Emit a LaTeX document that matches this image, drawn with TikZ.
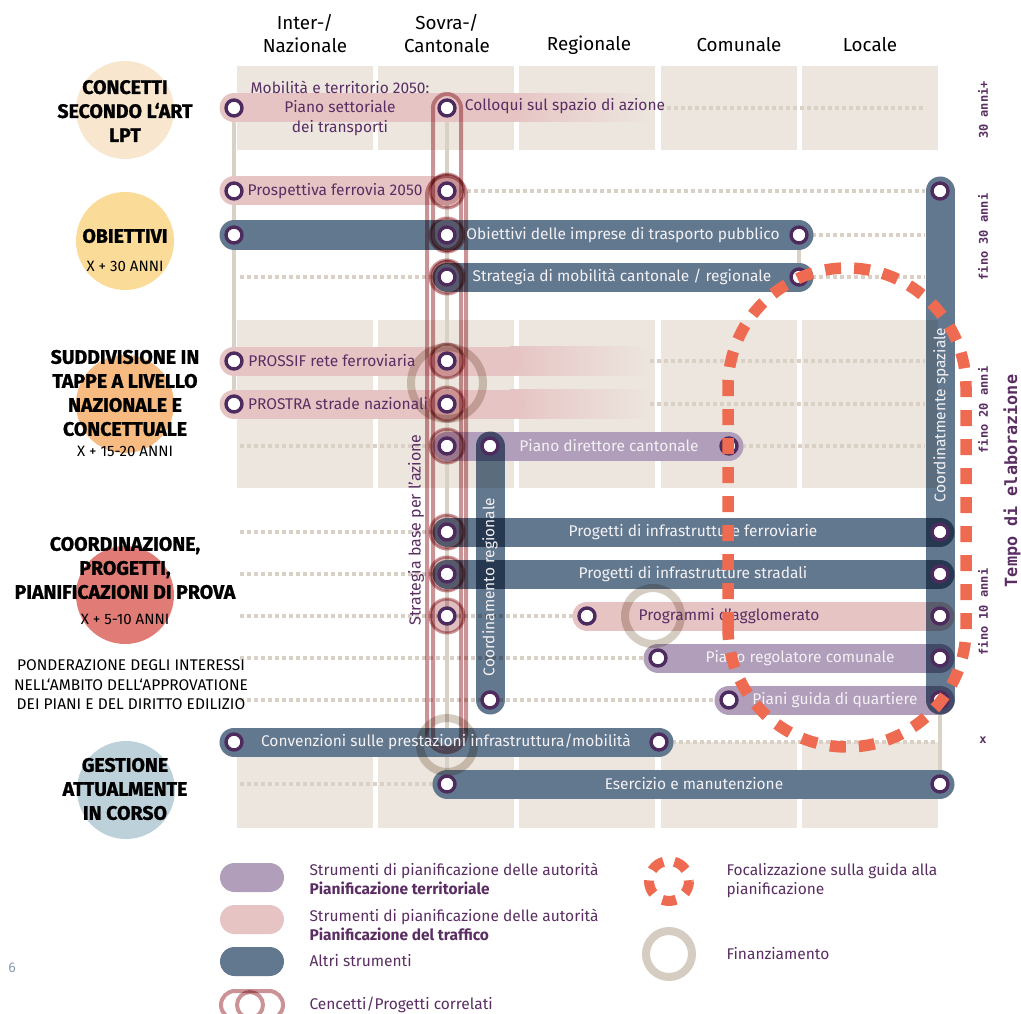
\documentclass[tikz,border=0pt]{standalone}
\usepackage{fontspec}
\setmainfont{Fira Sans}
\newfontfamily\heavyfont{Fira Sans}[BoldFeatures={FakeBold=1.2}]
\newfontfamily\monofont{DejaVu Sans Mono}
\usetikzlibrary{fadings}
\definecolor{darkbar}{HTML}{62788F}
\definecolor{pinkbar}{HTML}{E6C4C4}
\definecolor{lilabar}{HTML}{B09EBB}
\definecolor{stopline}{HTML}{4E2B5E}
\definecolor{bgbeige}{HTML}{EDE6DF}
\definecolor{dotbeige}{HTML}{D9D0C6}
\definecolor{relpink}{HTML}{CB9396}
\definecolor{fingrey}{HTML}{D5CCC2}
\definecolor{focusred}{HTML}{EE6A50}
\definecolor{plum}{HTML}{5A2D63}
\definecolor{barwhite}{HTML}{F4F1F4}
\definecolor{pagegrey}{HTML}{8A9CB2}
\definecolor{circA}{HTML}{F8E6CF}
\definecolor{circB}{HTML}{FADB98}
\definecolor{circC}{HTML}{F7BA80}
\definecolor{circD}{HTML}{E07B75}
\definecolor{circE}{HTML}{BDD1DA}
\begin{document}
\begin{tikzpicture}[line cap=round,line join=round,x=1pt,y=-1pt,
  bar/.style={line width=29pt},
  vbar/.style={line width=29pt,blend mode=multiply},
  dots/.style={dotbeige,line width=4pt,line cap=butt,dash pattern=on 4pt off 3pt},
  guide/.style={dotbeige,line width=4pt},
  stop/.style={circle,draw=stopline,fill=white,line width=3.4pt,minimum size=16pt,inner sep=0pt},
  halo/.style={relpink,fill=relpink!60,line width=3pt,blend mode=multiply},
  related/.style={relpink,line width=4pt,blend mode=multiply},
  fund/.style={fingrey,line width=8pt,blend mode=multiply},
  bartext/.style={font=\fontsize{15.5}{17}\selectfont,text=barwhite},
  pinktext/.style={font=\fontsize{15.5}{19.5}\selectfont,text=plum},
  head/.style={font=\fontsize{18.8}{23}\selectfont,align=center},
  cat/.style={font=\heavyfont\fontsize{19.5}{24}\selectfont\bfseries,align=center},
  sub/.style={font=\fontsize{15}{17}\selectfont},
  years/.style={font=\monofont\bfseries\fontsize{12}{14}\selectfont,text=plum,rotate=90},
  legtext/.style={font=\fontsize{15.5}{19}\selectfont,text=plum,align=left,anchor=west},
  legbox/.style={rounded corners=14.5pt,minimum width=64pt,minimum height=29pt}]
\useasboundingbox (0,0) rectangle (1021,1014);

% grid of levels
\foreach \x in {237,378,519,661,802}
  \foreach \ya/\yb in {66/150,320/488,742/828}
    \fill[bgbeige] (\x,\ya) rectangle ({\x+136},\yb);

% stops
\coordinate (mob) at (234,108); \coordinate (coll) at (447,108); \coordinate (collf) at (510,108);
\coordinate (pfa) at (234,191); \coordinate (pfb) at (447,191); \coordinate (spaz) at (940,191);
\coordinate (oba) at (234,235); \coordinate (obb) at (447,235); \coordinate (obc) at (799,235);
\coordinate (sma) at (447,277); \coordinate (smb) at (799,277);
\coordinate (psfa) at (234,361); \coordinate (psfb) at (447,361); \coordinate (psff) at (510,361);
\coordinate (psta) at (234,404); \coordinate (pstb) at (447,404); \coordinate (pstf) at (510,404);
\coordinate (pda) at (447,446); \coordinate (rega) at (490,446); \coordinate (pdb) at (729,446);
\coordinate (pifa) at (447,532); \coordinate (pifb) at (940,532);
\coordinate (pisa) at (447,574); \coordinate (pisb) at (940,574);
\coordinate (stra) at (447,616); \coordinate (pag) at (587,616); \coordinate (pagb) at (940,616);
\coordinate (prca) at (658,658); \coordinate (prcb) at (940,658);
\coordinate (regb) at (490,700); \coordinate (pgqa) at (729,700); \coordinate (pgqb) at (940,700);
\coordinate (cona) at (234,742); \coordinate (conb) at (659,742);
\coordinate (esa) at (447,784); \coordinate (esb) at (940,784);

% guide lines
\draw[guide] (mob) -- (psta);
\draw[guide] (coll) -- (esa);
\draw[guide] (obc) -- (smb);
\draw[guide] (pgqb) -- (esb);
\foreach \xa/\xb/\y in {660/925/108,460/925/191,812/925/235,240/433/277,812/925/277,
    650/925/361,650/925/404,240/433/446,742/925/446,240/433/532,240/433/574,
    240/573/616,240/645/658,240/715/700,672/940/742,240/433/784}
  \draw[dots] (\xa,\y) -- (\xb,\y);

% lines
\draw[bar,pinkbar] (mob) -- (collf);
\fill[pinkbar,path fading=east] (510,93.5) rectangle (650,122.5);
\draw[bar,pinkbar] (pfa) -- (pfb);
\draw[bar,darkbar] (oba) -- (obc);
\draw[bar,darkbar] (sma) -- (smb);
\draw[bar,pinkbar] (psfa) -- (psff);
\fill[pinkbar,path fading=east] (510,346.5) rectangle (650,375.5);
\draw[bar,pinkbar] (psta) -- (pstf);
\fill[pinkbar,path fading=east] (510,389.5) rectangle (650,418.5);
\draw[bar,lilabar] (pda) -- (pdb);
\draw[bar,darkbar] (pifa) -- (pifb);
\draw[bar,darkbar] (pisa) -- (pisb);
\draw[bar,pinkbar] (pag) -- (pagb);
\draw[bar,lilabar] (prca) -- (prcb);
\draw[bar,lilabar] (pgqa) -- (pgqb);
\draw[bar,darkbar] (cona) -- (conb);
\draw[bar,darkbar] (esa) -- (esb);
\draw[vbar,darkbar] (rega) -- (regb);
\draw[vbar,darkbar] (spaz) -- (pgqb);

% related concepts and funding
\draw[related,rounded corners=14pt] (433,94) rectangle (461,250);
\draw[related,rounded corners=19pt] (427,176) rectangle (466,752);
\draw[related,rounded corners=14pt] (433,262) rectangle (461,748);
\foreach \s in {pfb,obb,sma,psfb,pstb,pda,pifa,pisa,stra}
  \draw[halo] (\s) circle (17);
\draw[fund] (447,383) circle (36);
\draw[fund] (653,616) circle (28);
\draw[fund] (447,745) circle (27);

\foreach \s in {mob,coll,pfa,pfb,spaz,oba,obb,obc,sma,smb,psfa,psfb,psta,pstb,pda,rega,pdb,
    pifa,pifb,pisa,pisb,stra,pag,pagb,prca,prcb,regb,pgqa,pgqb,cona,conb,esa,esb}
  \node[stop] at (\s) {};

% line labels
\node[pinktext,align=center] (mobt) at (340,108) {Mobilità e territorio 2050:\\Piano settoriale\\dei transporti};
\node[pinktext] (collt) at (565,106) {Colloqui sul spazio di azione};
\node[pinktext] (pft) at (335,191) {Prospettiva ferrovia 2050};
\node[bartext] (obt) at (623,235) {Obiettivi delle imprese di trasporto pubblico};
\node[bartext] (smt) at (622,277) {Strategia di mobilità cantonale / regionale};
\node[pinktext] (psft) at (332,361) {PROSSIF rete ferroviaria};
\node[pinktext] (pstt) at (338,404) {PROSTRA strade nazionali};
\node[bartext] (pdt) at (609,446) {Piano direttore cantonale};
\node[bartext] (pift) at (693,532) {Progetti di infrastrutture ferroviarie};
\node[bartext] (pist) at (693,574) {Progetti di infrastrutture stradali};
\node[pinktext] (pagt) at (729,616) {Programmi d'agglomerato};
\node[bartext] (prct) at (800,658) {Piano regolatore comunale};
\node[bartext] (pgqt) at (835,700) {Piani guida di quartiere};
\node[bartext] (cont) at (446,742) {Convenzioni sulle prestazioni infrastruttura/mobilità};
\node[bartext] (est) at (694,784) {Esercizio e manutenzione};
\node[pinktext,font=\fontsize{16}{18}\selectfont,rotate=90] (stratt) at (416,530) {Strategia base per l'azione};
\node[bartext,rotate=90] (regt) at (490,587) {Coordinamento regionale};
\node[bartext,rotate=90] (spazt) at (941,415) {Coordinatmente spaziale};

% focus
\draw[focusred,line width=11.5pt,line cap=butt,dash pattern=on 16pt off 13pt]
  (728,628) -- (728,387) arc (180:360:119) -- (966,628) arc (0:180:119);

% phases
\fill[circA] (125,110) circle (49);
\node[cat] (concetti) at (125,111) {CONCETTI\\SECONDO L‘ART\\LPT};
\fill[circB] (125,241) circle (49);
\node[cat] (obiettivi) at (125,236) {OBIETTIVI};
\node[sub] at (125,266) {X + 30 ANNI};
\fill[circC] (125,404) circle (49);
\node[cat] (suddiv) at (125,393) {SUDDIVISIONE IN\\TAPPE A LIVELLO\\NAZIONALE E\\CONCETTUALE};
\node[sub] at (125,451) {X + 15-20 ANNI};
\fill[circD] (125,595) circle (49);
\node[cat] (coord) at (125,568) {COORDINAZIONE,\\PROGETTI,\\PIANIFICAZIONI DI PROVA};
\node[sub] at (125,619) {X + 5-10 ANNI};
\node[font=\fontsize{15.5}{19.5}\selectfont,align=center] (ponder) at (131,685)
  {PONDERAZIONE DEGLI INTERESSI\\NELL‘AMBITO DELL‘APPROVATIONE\\DEI PIANI E DEL DIRITTO EDILIZIO};
\fill[circE] (126,790) circle (49);
\node[cat] (gestione) at (125,789) {GESTIONE\\ATTUALMENTE\\IN CORSO};

% levels
\node[head] (internaz) at (305,34) {Inter-/\\Nazionale};
\node[head] (sovracant) at (447,34) {Sovra-/\\Cantonale};
\node[head] (regio) at (589,45) {Regionale};
\node[head] (comu) at (739,45) {Comunale};
\node[head] (loca) at (870,45) {Locale};

% time
\node[years] at (983,110) {30 anni+};
\node[years] at (983,237) {fino 30 anni};
\node[years] at (983,410) {fino 20 anni};
\node[years] at (983,612) {fino 10 anni};
\node[years,rotate=-90] at (983,740) {x};
\node[years,font=\monofont\bfseries\fontsize{16.8}{19}\selectfont] at (1012,481) {Tempo di elaborazione};

% legend
\node[legbox,fill=lilabar] (legterr) at (252,877.5) {};
\node[legtext] at (306,878.5) {Strumenti di pianificazione delle autorità\\\textbf{Pianificazione territoriale}};
\node[legbox,fill=pinkbar] (legtraf) at (252,919.5) {};
\node[legtext] at (306,924.5) {Strumenti di pianificazione delle autorità\\\textbf{Pianificazione del traffico}};
\node[legbox,fill=darkbar] (legaltri) at (252,961.5) {};
\node[legtext] at (306,961) {Altri strumenti};
\draw[related,rounded corners=14pt] (221,991) rectangle (283,1019);
\draw[related] (250,1005) circle (13);
\node[legtext] at (306,1005) {Cencetti/Progetti correlati};
\draw[focusred,line width=10pt,line cap=butt,dash pattern=on 14pt off 11.14pt,dash phase=1pt] (669,881) circle (20);
\node[legtext] at (723,880.5) {Focalizzazione sulla guida alla\\pianificazione};
\draw[fund] (669,954) circle (23);
\node[legtext] at (723,954) {Finanziamento};
\node[text=pagegrey,font=\fontsize{14}{16}\selectfont] at (12,968) {6};
\end{tikzpicture}
\end{document}
